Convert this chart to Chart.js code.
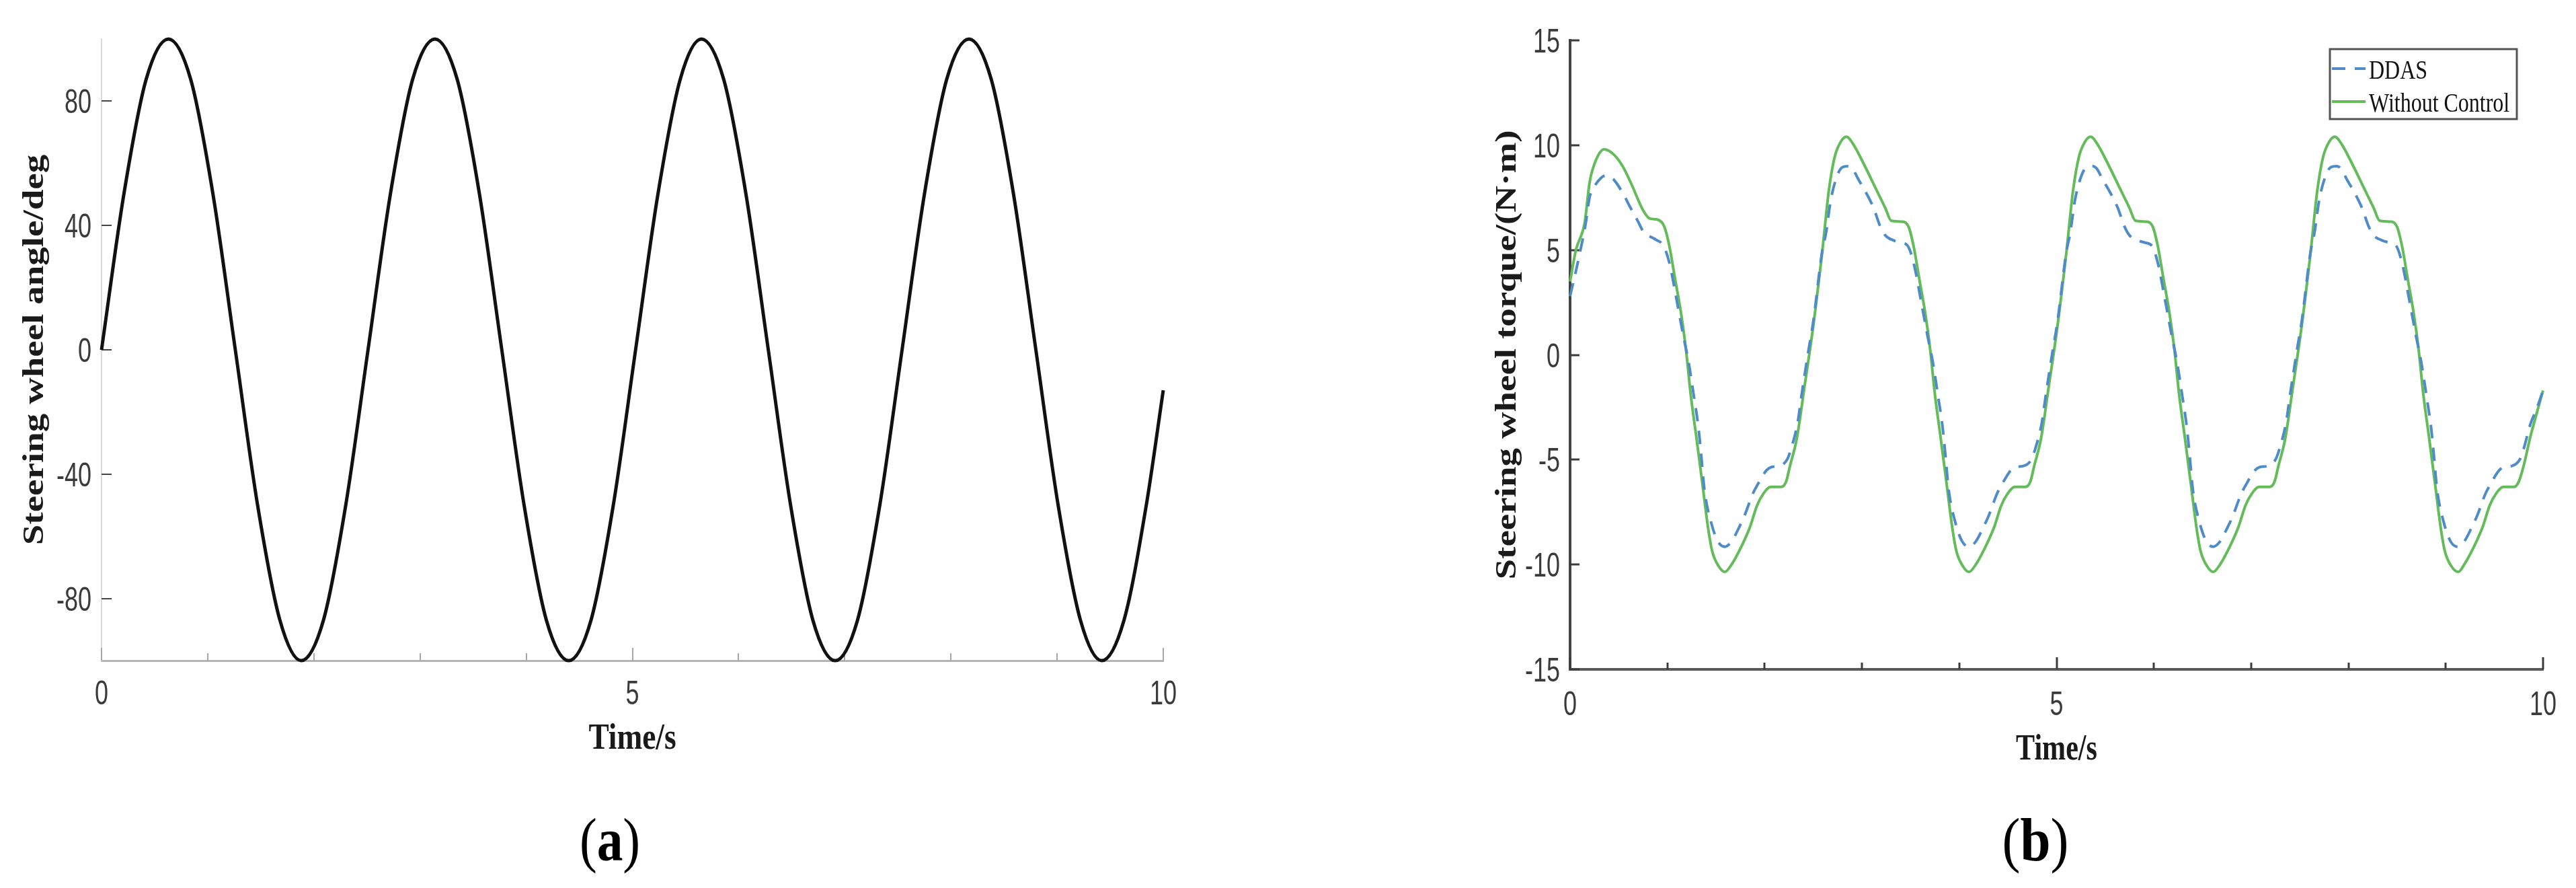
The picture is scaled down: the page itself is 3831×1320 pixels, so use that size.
<!DOCTYPE html>
<html>
<head>
<meta charset="utf-8">
<script src="https://cdn.jsdelivr.net/npm/chart.js@4.4.1/dist/chart.umd.min.js"></script>
<style>
    html, body { margin: 0; padding: 0; background: #fff; }
    body { width: 3831px; height: 1320px; position: relative; overflow: hidden; }
    canvas { position: absolute; top: 0; }
    #chartA { left: 0; }
    #chartB { left: 1950px; }
</style>
</head>
<body>
<canvas id="chartA" width="1900" height="1320"></canvas>
<canvas id="chartB" width="1881" height="1320"></canvas>
<script>
'use strict';

// axis ticks
const xTickLabels = [0, 5, 10];
const xMinorTicks = [1, 2, 3, 4, 6, 7, 8, 9];
const angleTicks = [-80, -40, 0, 40, 80];
const torqueTicks = [-15, -10, -5, 0, 5, 10, 15];

// (a) steering wheel angle, deg
const timeA = [0, 0.21, 0.42, 0.63, 0.84, 1.05, 1.26, 1.47, 1.68, 1.88, 2.09, 2.30,
    2.51, 2.72, 2.93, 3.14, 3.35, 3.56, 3.77, 3.98, 4.19, 4.40, 4.61, 4.82,
    5.03, 5.24, 5.45, 5.65, 5.86, 6.07, 6.28, 6.49, 6.70, 6.91, 7.12, 7.33,
    7.54, 7.75, 7.96, 8.17, 8.38, 8.59, 8.80, 9.01, 9.22, 9.42, 9.63, 9.84, 10];
const angleA = [0, 50, 87, 100, 87, 50, 0, -50, -87, -100, -87, -50,
    0, 50, 87, 100, 87, 50, 0, -50, -87, -100, -87, -50,
    0, 50, 87, 100, 87, 50, 0, -50, -87, -100, -87, -50,
    0, 50, 87, 100, 87, 50, 0, -50, -87, -100, -87, -50, -13];

// (b) steering wheel torque, N·m - without control
const timeNoCtrl = [0, 0.06, 0.15, 0.20, 0.25, 0.35, 0.45, 0.54, 0.63, 0.75,
    0.82, 0.90, 0.97, 1.02, 1.08, 1.14, 1.19, 1.24, 1.30, 1.36,
    1.42, 1.46, 1.53, 1.59, 1.66, 1.76, 1.85, 1.92, 1.99, 2.06,
    2.17, 2.22, 2.26, 2.33, 2.41, 2.50, 2.59, 2.66, 2.72, 2.78,
    2.84, 2.91, 3.03, 3.14, 3.24, 3.30, 3.42,
    3.48, 3.53, 3.59, 3.65, 3.70, 3.75, 3.81, 3.87, 3.93, 3.97,
    4.04, 4.10, 4.17, 4.27, 4.36, 4.43, 4.50, 4.57, 4.68, 4.73,
    4.77, 4.84, 4.92, 5.01, 5.10, 5.17, 5.23, 5.29, 5.35, 5.42,
    5.54, 5.65, 5.75, 5.81, 5.93,
    5.99, 6.04, 6.10, 6.16, 6.21, 6.26, 6.32, 6.38, 6.44, 6.48,
    6.55, 6.61, 6.68, 6.78, 6.87, 6.94, 7.01, 7.08, 7.19, 7.24,
    7.28, 7.35, 7.43, 7.52, 7.61, 7.68, 7.74, 7.80, 7.86, 7.93,
    8.05, 8.16, 8.26, 8.32, 8.44,
    8.50, 8.55, 8.61, 8.67, 8.72, 8.77, 8.83, 8.89, 8.95, 8.99,
    9.06, 9.13, 9.19, 9.29, 9.38, 9.45, 9.52, 9.59, 9.70, 9.75,
    9.80, 9.87, 9.94, 10.0];
const torqueNoCtrl = [3.5, 5.0, 6.3, 8.2, 9.1, 9.8, 9.55, 9.0, 8.15, 6.9,
    6.5, 6.45, 6.1, 5.2, 3.6, 2.0, 0.3, -1.9, -4.0, -6.15,
    -8.3, -9.35, -10.1, -10.35, -10.0, -9.15, -8.2, -7.2, -6.6, -6.3,
    -6.3, -6.05, -5.3, -4.0, -1.5, 1.4, 4.85, 7.85, 9.45, 10.15,
    10.4, 10.05, 9.0, 7.95, 7.0, 6.4, 6.35,
    6.1, 5.2, 3.6, 2.0, 0.3, -1.9, -4.0, -6.15, -8.3, -9.35,
    -10.1, -10.35, -10.0, -9.15, -8.2, -7.2, -6.6, -6.3, -6.3, -6.05,
    -5.3, -4.0, -1.5, 1.4, 4.85, 7.85, 9.45, 10.15, 10.4, 10.05,
    9.0, 7.95, 7.0, 6.4, 6.35,
    6.1, 5.2, 3.6, 2.0, 0.3, -1.9, -4.0, -6.15, -8.3, -9.35,
    -10.1, -10.35, -10.0, -9.15, -8.2, -7.2, -6.6, -6.3, -6.3, -6.05,
    -5.3, -4.0, -1.5, 1.4, 4.85, 7.85, 9.45, 10.15, 10.4, 10.05,
    9.0, 7.95, 7.0, 6.4, 6.35,
    6.1, 5.2, 3.6, 2.0, 0.3, -1.9, -4.0, -6.15, -8.3, -9.35,
    -10.1, -10.35, -10.0, -9.15, -8.2, -7.2, -6.6, -6.3, -6.3, -6.05,
    -5.3, -3.9, -2.7, -1.7];

// (b) steering wheel torque, N·m - DDAS
const timeDdas = [0, 0.06, 0.10, 0.16, 0.20, 0.24, 0.32, 0.37, 0.44, 0.55,
    0.60, 0.70, 0.75, 0.88, 0.96, 1.02, 1.10, 1.16, 1.22, 1.27,
    1.32, 1.35, 1.38, 1.45, 1.52, 1.59, 1.66, 1.74, 1.79, 1.88,
    1.92, 2.02, 2.07, 2.15, 2.23, 2.27, 2.34, 2.38, 2.45, 2.50,
    2.59, 2.63, 2.68, 2.75, 2.80, 2.86, 2.90, 2.96, 3.08, 3.12,
    3.19, 3.24, 3.33, 3.40,
    3.47, 3.53, 3.61, 3.67, 3.73, 3.78, 3.83, 3.86, 3.89, 3.96,
    4.03, 4.10, 4.17, 4.25, 4.30, 4.39, 4.43, 4.53, 4.58, 4.66,
    4.74, 4.78, 4.85, 4.89, 4.96, 5.01, 5.10, 5.14, 5.19, 5.26,
    5.31, 5.37, 5.41, 5.47, 5.59, 5.63, 5.70, 5.75, 5.84, 5.91,
    5.98, 6.04, 6.12, 6.18, 6.24, 6.29, 6.34, 6.37, 6.40, 6.47,
    6.54, 6.61, 6.68, 6.76, 6.81, 6.90, 6.94, 7.04, 7.09, 7.17,
    7.25, 7.29, 7.36, 7.40, 7.47, 7.52, 7.61, 7.65, 7.70, 7.77,
    7.82, 7.88, 7.92, 7.98, 8.10, 8.14, 8.21, 8.26, 8.35, 8.42,
    8.49, 8.55, 8.63, 8.69, 8.75, 8.80, 8.85, 8.88, 8.91, 8.98,
    9.05, 9.12, 9.19, 9.27, 9.32, 9.41, 9.45, 9.55, 9.60, 9.68,
    9.76, 9.80, 9.87, 9.94, 10.0];
const torqueDdas = [2.8, 4.0, 4.85, 6.25, 7.5, 7.95, 8.45, 8.55, 8.4, 7.65,
    7.2, 6.35, 5.9, 5.5, 5.2, 4.4, 2.5, 1.0, -0.4, -1.9,
    -3.5, -4.9, -6.4, -8.0, -8.9, -9.15, -8.9, -8.2, -7.7, -6.6,
    -6.25, -5.5, -5.35, -5.3, -5.0, -4.5, -3.2, -1.9, 0.2, 1.6,
    4.9, 5.8, 7.4, 8.6, 8.95, 9.0, 8.9, 8.4, 7.4, 7.0,
    6.1, 5.7, 5.45, 5.35,
    5.2, 4.4, 2.5, 1.0, -0.4, -1.9, -3.5, -4.9, -6.4, -8.0,
    -8.9, -9.15, -8.9, -8.2, -7.7, -6.6, -6.25, -5.5, -5.35, -5.3,
    -5.0, -4.5, -3.2, -1.9, 0.2, 1.6, 4.9, 5.8, 7.4, 8.6,
    8.95, 9.0, 8.9, 8.4, 7.4, 7.0, 6.1, 5.7, 5.45, 5.35,
    5.2, 4.4, 2.5, 1.0, -0.4, -1.9, -3.5, -4.9, -6.4, -8.0,
    -8.9, -9.15, -8.9, -8.2, -7.7, -6.6, -6.25, -5.5, -5.35, -5.3,
    -5.0, -4.5, -3.2, -1.9, 0.2, 1.6, 4.9, 5.8, 7.4, 8.6,
    8.95, 9.0, 8.9, 8.4, 7.4, 7.0, 6.1, 5.7, 5.45, 5.35,
    5.2, 4.4, 2.5, 1.0, -0.4, -1.9, -3.5, -4.9, -6.4, -8.0,
    -8.9, -9.15, -8.9, -8.2, -7.7, -6.6, -6.25, -5.5, -5.35, -5.3,
    -5.0, -4.5, -3.3, -2.5, -1.7];

const serif = "'Liberation Serif', 'Times New Roman', serif";
const sans = "'Liberation Sans', Arial, sans-serif";

function points(xs, ys) {
    return xs.map((x, i) => ({ x: x, y: ys[i] }));
}

// the source figure is squeezed horizontally, so text is drawn with a scaleX
function squeezedText(ctx, text, x, y, font, squeeze, opts) {
    opts = opts || {};
    ctx.save();
    ctx.translate(x, y);
    ctx.scale(squeeze, 1);
    if (opts.rotated) ctx.rotate(-Math.PI / 2);
    ctx.font = font;
    ctx.fillStyle = opts.color || '#1a1a1a';
    ctx.textAlign = opts.align || 'center';
    ctx.textBaseline = opts.rotated ? 'middle' : 'alphabetic';
    ctx.fillText(text, 0, 0);
    ctx.restore();
}

function panelLabel(ctx, letter, cx, baseline, squeeze) {
    const regular = `90px ${serif}`;
    const bold = `bold 90px ${serif}`;
    ctx.save();
    ctx.translate(cx, baseline);
    ctx.scale(squeeze, 1);
    ctx.fillStyle = '#000';
    ctx.textAlign = 'left';
    ctx.textBaseline = 'alphabetic';
    ctx.font = regular;
    const wOpen = ctx.measureText('(').width;
    const wClose = ctx.measureText(')').width;
    ctx.font = bold;
    const wLetter = ctx.measureText(letter).width;
    let x = -(wOpen + wLetter + wClose) / 2;
    ctx.font = regular;
    ctx.fillText('(', x, 0);
    x += wOpen;
    ctx.font = bold;
    ctx.fillText(letter, x, 0);
    x += wLetter;
    ctx.font = regular;
    ctx.fillText(')', x, 0);
    ctx.restore();
}

const decor = {
    id: 'decor',
    beforeDatasetsDraw(chart, args, o) {
        // MATLAB style ticks pointing into the axes
        const { ctx, chartArea, scales } = chart;
        ctx.save();
        ctx.lineCap = 'butt';
        ctx.strokeStyle = o.xTickColor;
        ctx.lineWidth = o.xTickWidth;
        const allX = xTickLabels.map(v => [v, o.majorLen]).concat(xMinorTicks.map(v => [v, o.minorLen]));
        for (const [v, len] of allX) {
            const px = Math.round(scales.x.getPixelForValue(v));
            ctx.beginPath();
            ctx.moveTo(px, chartArea.bottom);
            ctx.lineTo(px, chartArea.bottom - len);
            ctx.stroke();
        }
        ctx.strokeStyle = o.yTickColor;
        ctx.lineWidth = o.yTickWidth;
        for (const t of scales.y.ticks) {
            const py = Math.round(scales.y.getPixelForValue(t.value));
            ctx.beginPath();
            ctx.moveTo(chartArea.left, py);
            ctx.lineTo(chartArea.left + o.yTickLen, py);
            ctx.stroke();
        }
        ctx.restore();
    },
    afterDraw(chart, args, o) {
        const { ctx, chartArea, scales } = chart;
        const midX = (chartArea.left + chartArea.right) / 2;
        const midY = (chartArea.top + chartArea.bottom) / 2;

        // tick labels, narrow like the source
        const tickFont = `50px ${sans}`;
        for (const t of scales.x.ticks) {
            squeezedText(ctx, String(t.value), scales.x.getPixelForValue(t.value), o.xLabelBaseline,
                tickFont, 0.72, { color: '#3a3a3a' });
        }
        for (const t of scales.y.ticks) {
            squeezedText(ctx, String(t.value), chartArea.left - 15, scales.y.getPixelForValue(t.value) + 18,
                tickFont, 0.72, { color: '#3a3a3a', align: 'right' });
        }

        squeezedText(ctx, o.yTitle, o.yTitleX, midY, `bold 55px ${serif}`, 0.82, { rotated: true });
        squeezedText(ctx, 'Time/s', midX, o.xTitleBaseline, `bold 54px ${serif}`, o.xTitleSqueeze);
        panelLabel(ctx, o.panel, o.panelX, 1279, o.panelSqueeze);

        if (o.legendBox) {
            const b = o.legendBox;
            ctx.save();
            ctx.fillStyle = '#fff';
            ctx.fillRect(b.x, b.y, b.w, b.h);
            ctx.strokeStyle = '#555';
            ctx.lineWidth = 3;
            ctx.strokeRect(b.x, b.y, b.w, b.h);
            chart.data.datasets.forEach((ds, i) => {
                const base = b.y + 44 + i * 49;
                ctx.strokeStyle = ds.borderColor;
                ctx.lineWidth = ds.borderWidth;
                ctx.setLineDash(ds.borderDash || []);
                ctx.beginPath();
                ctx.moveTo(b.x + 3, base - 15);
                ctx.lineTo(b.x + 53, base - 15);
                ctx.stroke();
                ctx.setLineDash([]);
                squeezedText(ctx, ds.label, b.x + 58, base, `41px ${serif}`, 0.78, { color: '#111', align: 'left' });
            });
            ctx.restore();
        }
    }
};

function makeChart(canvasId, datasets, cfg) {
    return new Chart(document.getElementById(canvasId), {
        type: 'line',
        data: { datasets: datasets },
        options: {
            responsive: false,
            animation: false,
            devicePixelRatio: 1,
            events: [],
            layout: { padding: { left: 0, top: cfg.top, right: cfg.right, bottom: 0 } },
            elements: { point: { radius: 0 } },
            scales: {
                x: {
                    type: 'linear',
                    min: 0,
                    max: 10,
                    afterFit: (scale) => { scale.height = cfg.xHeight; },
                    afterBuildTicks: (scale) => { scale.ticks = xTickLabels.map(v => ({ value: v })); },
                    grid: { display: false, drawTicks: false },
                    border: { display: true, color: cfg.xAxisColor, width: cfg.xAxisWidth },
                    ticks: { display: false }
                },
                y: {
                    type: 'linear',
                    min: cfg.yMin,
                    max: cfg.yMax,
                    afterFit: (scale) => { scale.width = cfg.yWidth; },
                    afterBuildTicks: (scale) => { scale.ticks = cfg.yTicks.map(v => ({ value: v })); },
                    grid: { display: false, drawTicks: false },
                    border: { display: true, color: cfg.yAxisColor, width: cfg.yAxisWidth },
                    ticks: { display: false }
                }
            },
            plugins: {
                legend: { display: false },
                tooltip: { enabled: false },
                decor: cfg.decor
            }
        },
        plugins: [decor]
    });
}

makeChart('chartA', [
    {
        label: 'Steering wheel angle',
        data: points(timeA, angleA),
        borderColor: '#111',
        borderWidth: 5,
        cubicInterpolationMode: 'monotone',
        clip: false
    }
], {
    top: 58, right: 170, xHeight: 338, yWidth: 151,
    yMin: -100, yMax: 100, yTicks: angleTicks,
    xAxisColor: '#b4b4b4', xAxisWidth: 3,
    yAxisColor: '#dadada', yAxisWidth: 2,
    decor: {
        yTitle: 'Steering wheel angle/deg', yTitleX: 52,
        xLabelBaseline: 1047,
        xTitleBaseline: 1113, xTitleSqueeze: 0.84,
        panel: 'a', panelX: 907, panelSqueeze: 0.86,
        xTickColor: '#a8a8a8', xTickWidth: 2, majorLen: 19, minorLen: 11,
        yTickColor: '#444', yTickWidth: 2, yTickLen: 15,
        legendBox: null
    }
});

makeChart('chartB', [
    {
        label: 'DDAS',
        data: points(timeDdas, torqueDdas),
        borderColor: '#4f8bc9',
        borderWidth: 4,
        borderDash: [20, 14],
        cubicInterpolationMode: 'monotone',
        clip: false
    },
    {
        label: 'Without Control',
        data: points(timeNoCtrl, torqueNoCtrl),
        borderColor: '#63bb5a',
        borderWidth: 4,
        cubicInterpolationMode: 'monotone',
        clip: false
    }
], {
    top: 60, right: 49, xHeight: 325, yWidth: 385,
    yMin: -15, yMax: 15, yTicks: torqueTicks,
    xAxisColor: '#5a5a5a', xAxisWidth: 4,
    yAxisColor: '#444', yAxisWidth: 4,
    decor: {
        yTitle: 'Steering wheel torque/(N·m)', yTitleX: 292,
        xLabelBaseline: 1063,
        xTitleBaseline: 1129, xTitleSqueeze: 0.78,
        panel: 'b', panelX: 1077, panelSqueeze: 0.9,
        xTickColor: '#3c3c3c', xTickWidth: 3, majorLen: 18, minorLen: 10,
        yTickColor: '#3c3c3c', yTickWidth: 3, yTickLen: 14,
        legendBox: { x: 1515, y: 73, w: 278, h: 104 }
    }
});
</script>
</body>
</html>
